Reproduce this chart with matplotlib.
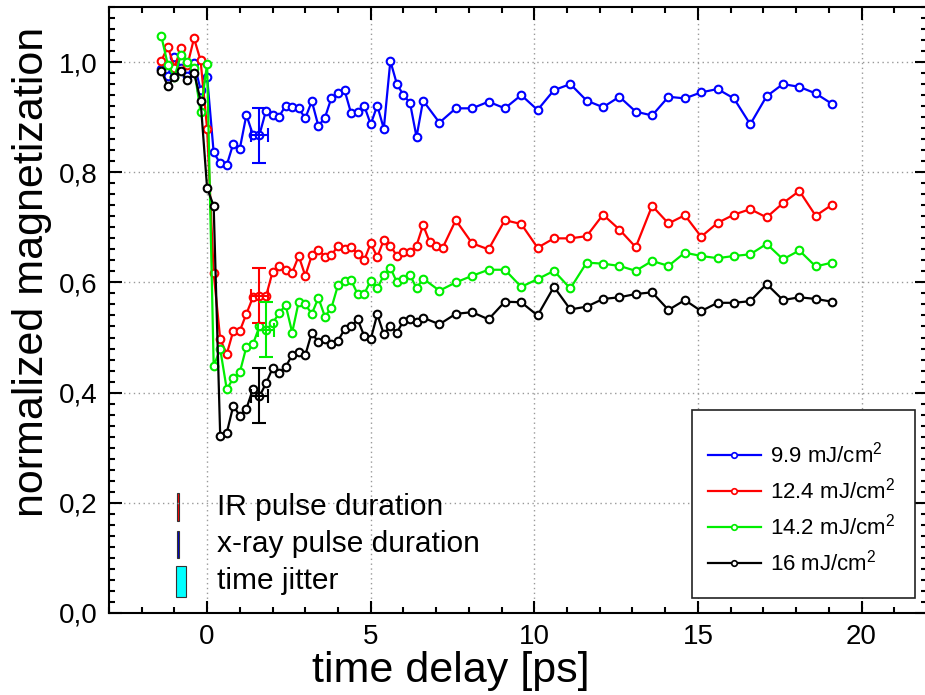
import matplotlib.pyplot as plt
from matplotlib.lines import Line2D
from matplotlib.patches import Rectangle
from matplotlib.ticker import MultipleLocator, FuncFormatter

plt.rcParams['font.family'] = ['Liberation Sans', 'DejaVu Sans']
plt.rcParams['mathtext.fontset'] = 'custom'
plt.rcParams['mathtext.rm'] = 'Liberation Sans'

# time delays [ps]
t_fine = [-1.4, -1.2, -1.0, -0.8, -0.6, -0.4, -0.2, 0.0, 0.2, 0.4, 0.6, 0.8, 1.0,
          1.2, 1.4, 1.6, 1.8, 2.0, 2.2, 2.4, 2.6, 2.8, 3.0, 3.2, 3.4, 3.6, 3.8, 4.0,
          4.2, 4.4, 4.6, 4.8, 5.0, 5.2, 5.4, 5.6, 5.8, 6.0, 6.2, 6.4, 6.6]
t_coarse = [7.1, 7.6, 8.1, 8.6, 9.1, 9.6, 10.1, 10.6, 11.1, 11.6, 12.1, 12.6, 13.1,
            13.6, 14.1, 14.6, 15.1, 15.6, 16.1, 16.6, 17.1, 17.6, 18.1, 18.6, 19.1]
t_delay = t_fine + t_coarse
t_red = t_fine + [6.8, 7.0, 7.2] + t_coarse[1:]

# normalized magnetization for each fluence
m_99 = [0.987, 0.975, 1.010, 0.990, 0.974, 0.998, 0.950, 0.973,
        0.836, 0.816, 0.813, 0.852, 0.843, 0.904, 0.868, 0.868, 0.912, 0.904, 0.901, 0.921, 0.918,
        0.916, 0.898, 0.929, 0.884, 0.899, 0.935, 0.943, 0.949, 0.907, 0.910, 0.921, 0.887, 0.921,
        0.879, 1.002, 0.960, 0.940, 0.926, 0.864, 0.930,
        0.890, 0.916, 0.916, 0.928, 0.916, 0.940, 0.913, 0.949, 0.960, 0.930, 0.918, 0.937, 0.910,
        0.903, 0.937, 0.934, 0.945, 0.951, 0.934, 0.887, 0.938, 0.960, 0.955, 0.943, 0.924]
m_124 = [1.002, 1.028, 0.990, 1.025, 0.995, 1.043, 1.003, 0.879,
         0.617, 0.497, 0.470, 0.512, 0.512, 0.543, 0.573, 0.576, 0.575, 0.619, 0.629, 0.622, 0.618,
         0.648, 0.612, 0.649, 0.659, 0.647, 0.649, 0.667, 0.661, 0.664, 0.652, 0.640, 0.671, 0.646,
         0.677, 0.667, 0.648, 0.656, 0.655, 0.667, 0.704,
         0.674, 0.666, 0.663,
         0.713, 0.671, 0.660, 0.713, 0.706, 0.663, 0.680, 0.680, 0.684, 0.723, 0.696, 0.664, 0.739,
         0.707, 0.722, 0.683, 0.708, 0.723, 0.733, 0.718, 0.744, 0.766, 0.721, 0.741]
m_142 = [1.047, 0.995, 0.973, 1.013, 1.000, 0.990, 0.909, 0.997,
         0.448, 0.479, 0.406, 0.426, 0.437, 0.483, 0.488, 0.520, 0.514, 0.526, 0.544, 0.559, 0.509,
         0.565, 0.560, 0.543, 0.572, 0.538, 0.554, 0.595, 0.603, 0.604, 0.579, 0.579, 0.603, 0.589,
         0.613, 0.627, 0.600, 0.606, 0.614, 0.589, 0.607,
         0.585, 0.600, 0.612, 0.623, 0.623, 0.592, 0.606, 0.621, 0.589, 0.636, 0.634, 0.630, 0.621,
         0.639, 0.630, 0.654, 0.648, 0.644, 0.648, 0.651, 0.670, 0.642, 0.658, 0.629, 0.636]
m_16 = [0.984, 0.956, 0.973, 0.983, 0.967, 0.981, 0.930, 0.771,
        0.739, 0.321, 0.327, 0.376, 0.358, 0.371, 0.406, 0.393, 0.417, 0.444, 0.436, 0.447, 0.468,
        0.473, 0.468, 0.509, 0.491, 0.497, 0.488, 0.494, 0.515, 0.520, 0.533, 0.503, 0.497, 0.542,
        0.506, 0.521, 0.509, 0.530, 0.534, 0.529, 0.536,
        0.524, 0.543, 0.546, 0.533, 0.565, 0.564, 0.540, 0.592, 0.551, 0.556, 0.570, 0.573, 0.579,
        0.582, 0.550, 0.568, 0.548, 0.563, 0.563, 0.566, 0.597, 0.568, 0.573, 0.570, 0.565]

labels = ['9.9 mJ/cm$^2$', '12.4 mJ/cm$^2$', '14.2 mJ/cm$^2$', '16 mJ/cm$^2$']
colors = ['#0000ff', '#ff0000', '#00ee00', '#000000']

# representative error bars
err_t = [1.6, 1.6, 1.8, 1.6]
err_m = [0.867, 0.576, 0.514, 0.394]
err_x = 0.25
err_y = 0.05

fig = plt.figure(figsize=(9.25, 6.95), dpi=100)
ax = fig.add_axes([0.1178, 0.118, 0.8843, 0.872])

series = [(t_delay, m_99), (t_red, m_124), (t_delay, m_142), (t_delay, m_16)]
for (t, m), c in zip(series, colors):
    ax.plot(t, m, color=c, lw=1.6, marker='o', ms=5.5, mfc='white', mec=c, mew=1.5, zorder=3)

for x, y, c in zip(err_t, err_m, colors):
    ax.errorbar(x, y, xerr=err_x, yerr=err_y, fmt='none', ecolor=c, elinewidth=1.5,
                capsize=5, capthick=1.5, zorder=4)

ax.set_xlim(-3, 22)
ax.set_ylim(0, 1.1)
ax.xaxis.set_major_locator(MultipleLocator(5))
ax.xaxis.set_minor_locator(MultipleLocator(1))
ax.yaxis.set_major_locator(MultipleLocator(0.2))
ax.yaxis.set_minor_locator(MultipleLocator(0.02))
ax.yaxis.set_major_formatter(FuncFormatter(lambda v, p: f'{v:.1f}'.replace('.', ',')))
ax.tick_params(which='both', direction='in', top=True, right=True, width=1.5, labelsize=20)
ax.tick_params(which='major', length=9, pad=8)
ax.tick_params(which='minor', length=4.5)
for s in ax.spines.values():
    s.set_linewidth(1.5)
ax.grid(True, which='major', color='#999999', linestyle=(0, (1, 2.5)), lw=1)

ax.set_xlabel('time delay [ps]', fontsize=31, labelpad=0)
ax.xaxis.set_label_coords(0.418, -0.062)
ax.set_ylabel('normalized magnetization', fontsize=31)
ax.yaxis.set_label_coords(-0.070, 0.563)

# legend box
ax.add_patch(Rectangle((14.81, 0.027), 6.84, 0.341, facecolor='white', edgecolor='#222222',
                       lw=1.2, zorder=5))
handles = [Line2D([], [], color=c, lw=1.6, marker='o', ms=4, mfc='white', mec=c, mew=1.2)
           for c in colors]
ax.legend(handles, labels, loc='upper left', bbox_to_anchor=(0.732, 0.282), frameon=False,
          borderpad=0, borderaxespad=0, fontsize=16, handlelength=2.4, handletextpad=0.4,
          labelspacing=0.45, numpoints=1).set_zorder(6)

# pulse duration / jitter markers
ax.add_patch(Rectangle((-0.93, 0.167), 0.08, 0.051, facecolor='#ff0000', edgecolor='#333333', lw=0.8))
ax.add_patch(Rectangle((-0.93, 0.100), 0.08, 0.049, facecolor='#0000cc', edgecolor='#333333', lw=0.8))
ax.add_patch(Rectangle((-0.95, 0.029), 0.30, 0.056, facecolor='#00ffff', edgecolor='#333333', lw=0.8))
ax.text(0.3, 0.192, 'IR pulse duration', fontsize=21.5, va='center')
ax.text(0.3, 0.125, 'x-ray pulse duration', fontsize=21.5, va='center')
ax.text(0.3, 0.058, 'time jitter', fontsize=21.5, va='center')

fig.savefig('out.png', dpi=100)
